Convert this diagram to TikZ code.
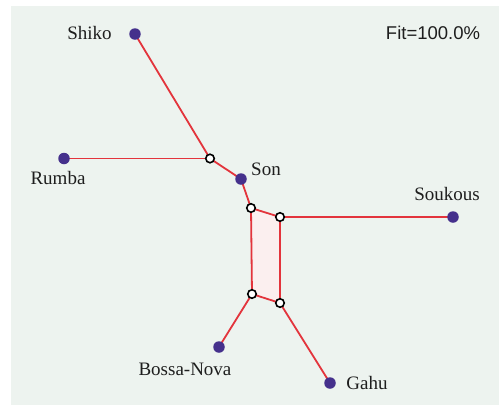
\documentclass[tikz,border=0pt]{standalone}
\usepackage{fontspec}
\setmainfont{Liberation Serif}
\newfontfamily\fitfont{Liberation Sans}
\usetikzlibrary{backgrounds}
\definecolor{bgc}{HTML}{EDF3EF}
\definecolor{edgec}{HTML}{E3343C}
\definecolor{leafc}{HTML}{45308C}
\definecolor{boxc}{HTML}{FBEFEF}
\definecolor{txtc}{HTML}{1E1E1E}
\tikzset{
  leaf/.style={circle,fill=leafc,draw=none,minimum size=11.5pt,inner sep=0pt},
  split/.style={circle,fill=white,draw=black,line width=1.6pt,minimum size=8.5pt,inner sep=0pt},
  edge/.style={draw=edgec,line width=1.8pt},
  lbl/.style={anchor=base,text=txtc,inner sep=0pt,font=\fontsize{19}{19}\selectfont},
}
\begin{document}
\begin{tikzpicture}[x=1pt,y=-1pt]
\useasboundingbox (0,0) rectangle (499,405);
% leaves
\node[leaf] (shiko) at (135,34) {};
\node[leaf] (rumba) at (64,158.5) {};
\node[leaf] (son) at (241,179) {};
\node[leaf] (soukous) at (453,217) {};
\node[leaf] (bossa) at (219,347) {};
\node[leaf] (gahu) at (330,383) {};
% splits
\node[split] (a) at (210,158.5) {};
\node[split] (b) at (251,208) {};
\node[split] (c) at (280,217) {};
\node[split] (d) at (252,294) {};
\node[split] (e) at (280,303) {};
\begin{scope}[on background layer]
\fill[bgc] (11,6) rectangle (499,405);
\fill[boxc] (b.center) -- (c.center) -- (e.center) -- (d.center) -- cycle;
\draw[edge] (shiko.center) -- (a.center);
\draw[edge] (rumba.center) -- (a.center);
\draw[edge] (a.center) -- (son.center);
\draw[edge] (son.center) -- (b.center);
\draw[edge] (b.center) -- (c.center);
\draw[edge] (c.center) -- (soukous.center);
\draw[edge] (b.center) -- (d.center);
\draw[edge] (c.center) -- (e.center);
\draw[edge] (d.center) -- (e.center);
\draw[edge] (d.center) -- (bossa.center);
\draw[edge] (e.center) -- (gahu.center);
\end{scope}
% labels
\node[lbl] (lshiko) at (89.5,39) {Shiko};
\node[lbl] (lrumba) at (58,184) {Rumba};
\node[lbl] (lson) at (266,175) {Son};
\node[lbl] (lsoukous) at (447,200) {Soukous};
\node[lbl] (lbossa) at (185,375) {Bossa-Nova};
\node[lbl] (lgahu) at (367,389) {Gahu};
\node[lbl,font=\fitfont\fontsize{18.5}{19}\selectfont] (fit) at (433,39) {Fit=100.0\%};
\end{tikzpicture}
\end{document}
